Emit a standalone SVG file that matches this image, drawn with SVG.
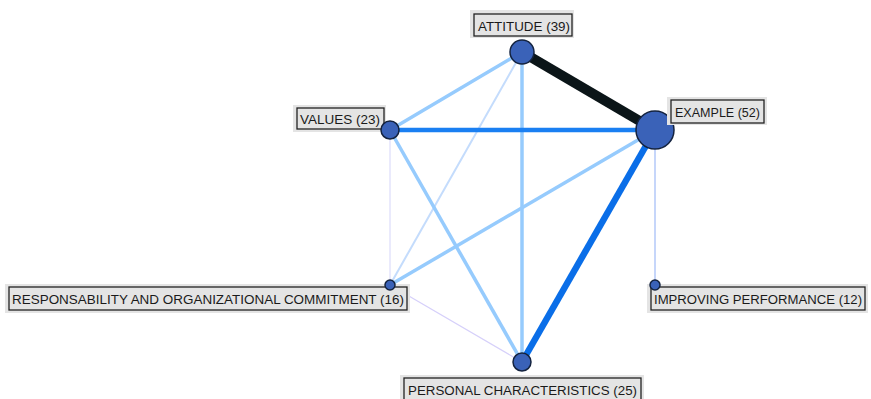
<svg xmlns="http://www.w3.org/2000/svg" width="871" height="399" viewBox="0 0 871 399">
  <style>
    .lbl-bg { fill: #e4e4e4; stroke: none; }
    .lbl-box { fill: #e4e4e4; stroke: #222; stroke-width: 1.3; }
    .lbl { font-family: "Liberation Sans", Arial, sans-serif; font-size: 12.5px; fill: #1a1a1a; }
    .node { fill: #3a62b8; stroke: #14233f; stroke-width: 1.5; }
    .edge { fill: none; stroke-linecap: butt; }
  </style>
  <rect width="871" height="399" fill="#ffffff"/>

  <g id="connectors">
    <line class="edge" x1="390" y1="130" x2="390" y2="285" stroke="#dcdcfa" stroke-width="1.2"/>
    <line class="edge" x1="390" y1="285" x2="522" y2="362" stroke="#d6d0fa" stroke-width="1.2"/>
    <line class="edge" x1="655" y1="130" x2="655" y2="285" stroke="#c6d6fa" stroke-width="2"/>
    <line class="edge" x1="522" y1="52" x2="390" y2="285" stroke="#c4dcfc" stroke-width="2"/>
    <line class="edge" x1="522" y1="52" x2="390" y2="130" stroke="#96cbfd" stroke-width="3.5"/>
    <line class="edge" x1="522" y1="52" x2="522" y2="362" stroke="#96cbfd" stroke-width="3.5"/>
    <line class="edge" x1="390" y1="130" x2="522" y2="362" stroke="#96cbfd" stroke-width="3.5"/>
    <line class="edge" x1="655" y1="130" x2="390" y2="285" stroke="#96cbfd" stroke-width="3.5"/>
    <line class="edge" x1="390" y1="130" x2="655" y2="130" stroke="#1a7ff2" stroke-width="4.5"/>
    <line class="edge" x1="655" y1="130" x2="522" y2="362" stroke="#0a6ee8" stroke-width="6.5"/>
    <line class="edge" x1="522" y1="52" x2="655" y2="130" stroke="#0b1518" stroke-width="10"/>
  </g>

  <g id="node-attitude">
    <circle class="node" cx="522" cy="52" r="12"/>
    <rect class="lbl-bg" x="470" y="10" width="104" height="28"/>
    <rect class="lbl-box" x="474" y="14" width="98" height="22"/>
    <text class="lbl" x="478" y="31" textLength="92" lengthAdjust="spacingAndGlyphs">ATTITUDE (39)</text>
  </g>

  <g id="node-example">
    <circle class="node" cx="655" cy="130" r="19"/>
    <rect class="lbl-bg" x="667" y="97" width="100" height="28"/>
    <rect class="lbl-box" x="671" y="100" width="93" height="23"/>
    <text class="lbl" x="675" y="117" textLength="85" lengthAdjust="spacingAndGlyphs">EXAMPLE (52)</text>
  </g>

  <g id="node-values">
    <rect class="lbl-bg" x="293" y="105" width="93" height="27"/>
    <rect class="lbl-box" x="297" y="108" width="87" height="21"/>
    <text class="lbl" x="300" y="124" textLength="80" lengthAdjust="spacingAndGlyphs">VALUES (23)</text>
    <circle class="node" cx="390" cy="130" r="9"/>
  </g>

  <g id="node-responsability">
    <rect class="lbl-bg" x="5" y="284" width="405" height="29"/>
    <rect class="lbl-box" x="9" y="287" width="398" height="23"/>
    <text class="lbl" x="12" y="304" textLength="392" lengthAdjust="spacingAndGlyphs">RESPONSABILITY AND ORGANIZATIONAL COMMITMENT (16)</text>
    <circle class="node" cx="390" cy="285" r="5"/>
  </g>

  <g id="node-improving">
    <rect class="lbl-bg" x="647" y="284" width="221" height="29"/>
    <rect class="lbl-box" x="651" y="287" width="214" height="23"/>
    <text class="lbl" x="654" y="304" textLength="208" lengthAdjust="spacingAndGlyphs">IMPROVING PERFORMANCE (12)</text>
    <circle class="node" cx="655" cy="285" r="5"/>
  </g>

  <g id="node-personal">
    <circle class="node" cx="522" cy="362" r="9"/>
    <rect class="lbl-bg" x="400" y="375" width="244" height="26"/>
    <rect class="lbl-box" x="404" y="378" width="237" height="23"/>
    <text class="lbl" x="408" y="395" textLength="229" lengthAdjust="spacingAndGlyphs">PERSONAL CHARACTERISTICS (25)</text>
  </g>
</svg>
